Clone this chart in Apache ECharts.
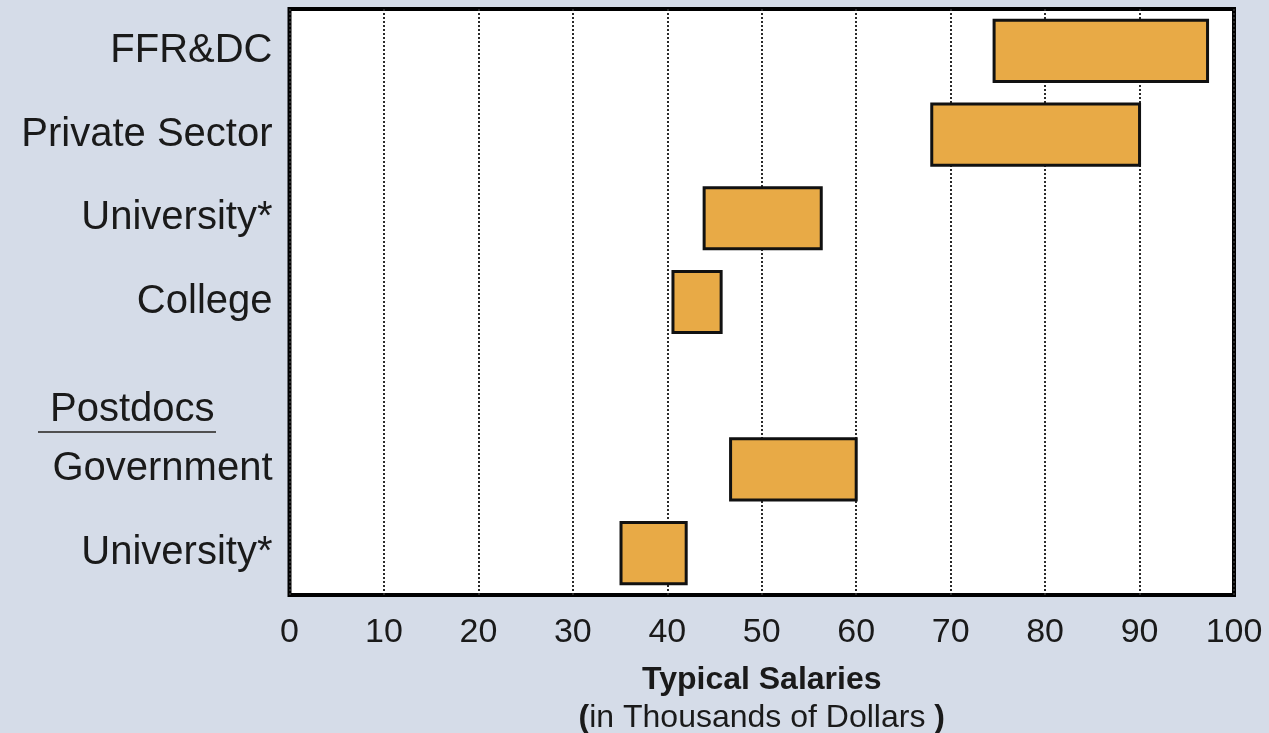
<!DOCTYPE html>
<html>
<head>
<meta charset="utf-8">
<script src="https://cdn.jsdelivr.net/npm/echarts@6/dist/echarts.min.js"></script>
<style>
  html, body { margin: 0; padding: 0; background: #d5dce8; }
  #chart { width: 1269px; height: 733px; }
</style>
</head>
<body>
<div id="chart"></div>
<script>
// Salary ranges (thousands of dollars) by sector; the empty slot holds the "Postdocs" heading
const categories = ['FFR&DC', 'Private Sector', 'University*', 'College', '', 'Government', 'University*'];
const lowValues  = [74.6, 68.0, 43.9, 40.6, null, 46.7, 35.1];
const highValues = [97.2, 90.0, 56.3, 45.7, null, 60.0, 42.0];
const xTickLabels = ['0', '10', '20', '30', '40', '50', '60', '70', '80', '90', '100'];
const groupHeading = 'Postdocs';

const rangeData = [];
categories.forEach(function (c, i) {
  if (lowValues[i] != null) rangeData.push([i, lowValues[i], highValues[i]]);
});

const chart = echarts.init(document.getElementById('chart'));
const FONT = '"Liberation Sans", Arial, Helvetica, sans-serif';

chart.setOption({
  backgroundColor: '#d5dce8',
  animation: false,
  grid: {
    left: 289.5, right: 35, top: 9, bottom: 138,
    containLabel: false, outerBoundsMode: 'none',
    show: true, backgroundColor: '#ffffff', borderColor: '#000000', borderWidth: 4
  },
  xAxis: {
    type: 'value', min: 0, max: 100, interval: 10,
    axisLine: { show: false }, axisTick: { show: false },
    splitLine: { show: true, lineStyle: { color: '#2a2a2a', width: 2, type: [2, 2] } },
    axisLabel: {
      fontFamily: FONT, fontSize: 34, color: '#1a1a1a', margin: 21,
      formatter: function (v) { return xTickLabels[Math.round(v / 10)]; }
    },
    name: '{b|Typical Salaries}\n{p|(}{n|in Thousands of Dollars }{p|)}',
    nameLocation: 'middle', nameGap: 66,
    nameTextStyle: {
      fontFamily: FONT, color: '#1a1a1a', align: 'center',
      rich: {
        b: { fontFamily: FONT, fontSize: 32, fontWeight: 'bold', color: '#1a1a1a', lineHeight: 38, align: 'center' },
        p: { fontFamily: FONT, fontSize: 32, fontWeight: 'bold', color: '#1a1a1a', lineHeight: 38 },
        n: { fontFamily: FONT, fontSize: 32, color: '#1a1a1a', lineHeight: 38 }
      }
    }
  },
  yAxis: {
    type: 'category', data: categories, inverse: true,
    axisLine: { show: false }, axisTick: { show: false }, splitLine: { show: false },
    axisLabel: { fontFamily: FONT, fontSize: 40, color: '#1a1a1a', margin: 17 }
  },
  series: [{
    type: 'custom',
    data: rangeData,
    encode: { x: [1, 2], y: 0 },
    renderItem: function (params, api) {
      const cat = api.value(0);
      const p0 = api.coord([api.value(1), cat]);
      const p1 = api.coord([api.value(2), cat]);
      const h = api.size([0, 1])[1] * 0.73;
      return {
        type: 'rect',
        shape: { x: p0[0], y: p0[1] - h / 2, width: p1[0] - p0[0], height: h },
        style: { fill: '#e8aa46', stroke: '#111111', lineWidth: 3 }
      };
    }
  }],
  graphic: [
    {
      type: 'text', left: 50, top: 390,
      style: { text: groupHeading, font: '40px ' + FONT, fill: '#1a1a1a' }
    },
    {
      type: 'line',
      shape: { x1: 38, y1: 432, x2: 216, y2: 432 },
      style: { stroke: '#505050', lineWidth: 2 }
    }
  ]
});
</script>
</body>
</html>
